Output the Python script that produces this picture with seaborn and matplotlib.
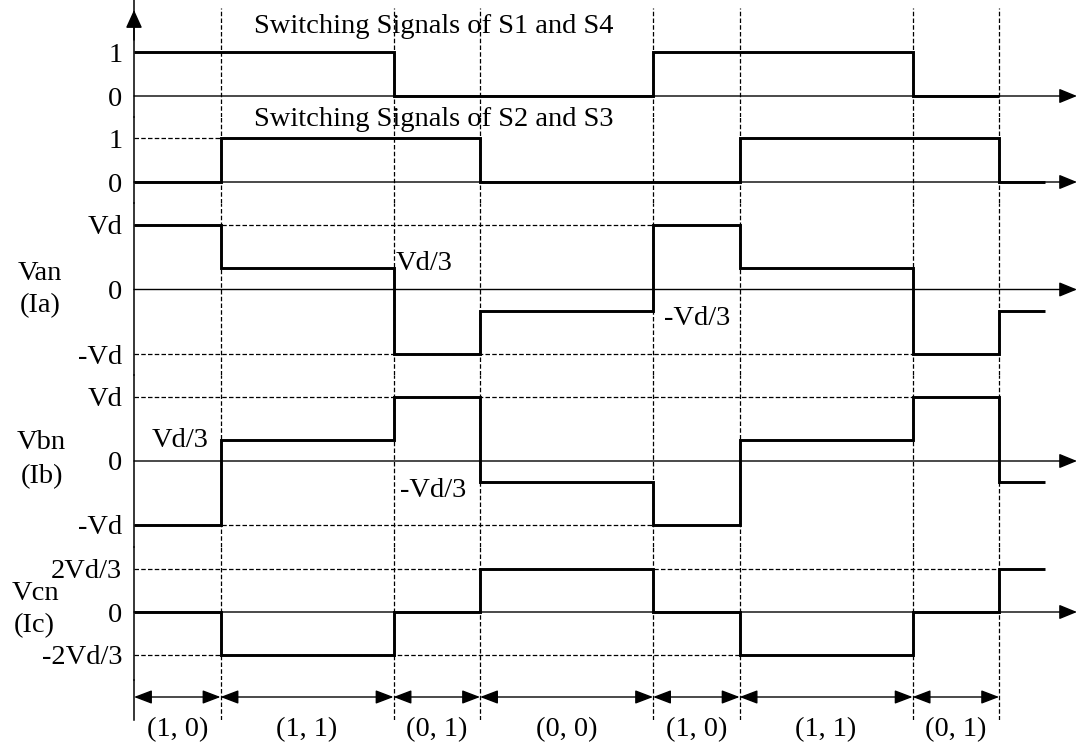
import numpy as np
import pandas as pd
import matplotlib
matplotlib.use("Agg")
import matplotlib.pyplot as plt
import seaborn as sns

# ---------------- data ----------------
edges = [0, 1, 3, 4, 6, 7, 9, 10]          # switching instants (time units)
t_end = 10.53                              # end of drawn waveforms
states = ["(1, 0)", "(1, 1)", "(0, 1)", "(0, 0)", "(1, 0)", "(1, 1)", "(0, 1)"]
s14 = [1, 1, 0, 0, 1, 1, 0]                # S1/S4 per interval (ends at t=10)
s23 = [0, 1, 1, 0, 0, 1, 1, 0]             # S2/S3 per interval (+ tail)
van = [1, 1/3, -1, -1/3, 1, 1/3, -1, -1/3] # in units of Vd
vbn = [-1, 1/3, 1, -1/3, -1, 1/3, 1, -1/3]
vcn = [0, -2/3, 0, 2/3, 0, -2/3, 0, 2/3]

sw_ticks = [0, 1]
sw_labels = ["0", "1"]
v_ticks = [-1, 0, 1]
v_labels = ["-Vd", "0", "Vd"]
c_ticks = [-2/3, 0, 2/3]
c_labels = ["-2Vd/3", "0", "2Vd/3"]

# dashed guide lines per row: (level, x_start, x_end)
guides_s23 = [(1, 0, 1)]
guides_van = [(1, 0, 6), (-1, 0, 9)]
guides_vbn = [(1, 0, 9), (-1, 0, 6)]
guides_vcn = [(2/3, 0, 10), (-2/3, 0, 7)]

# ---------------- style ----------------
sns.set_style("white")
plt.rcParams["font.family"] = ["Liberation Serif", "DejaVu Serif"]
FS = 20.5
K = "black"
DASH = (0, (3.6, 1.8))

W, H = 1078, 744
fig = plt.figure(figsize=(W / 100, H / 100), dpi=100)
X0, X1 = 134, 1077
XMAX = 10.9


def add_row(top, bot, zero, scale):
    ax = fig.add_axes([X0 / W, 1 - bot / H, (X1 - X0) / W, (bot - top) / H])
    ax.set_xlim(0, XMAX)
    ax.set_ylim((zero - bot) / scale, (zero - top) / scale)
    ax.patch.set_alpha(0)
    for s in ["top", "right", "bottom"]:
        ax.spines[s].set_visible(False)
    ax.spines["left"].set_linewidth(1.1)
    ax.spines["left"].set_color(K)
    ax.tick_params(axis="y", length=0, pad=8.5, labelsize=FS, labelcolor=K)
    ax.set_xticks([])
    return ax


def step(ax, x, v):
    df = pd.DataFrame({"t": x, "v": v})
    sns.lineplot(data=df, x="t", y="v", ax=ax, drawstyle="steps-post",
                 estimator=None, sort=False, color=K, lw=2.1,
                 solid_joinstyle="miter", solid_capstyle="butt", zorder=5)
    ax.set_xlabel("")
    ax.set_ylabel("")


def zero_arrow(ax):
    ax.annotate("", xy=(XMAX, 0), xytext=(0, 0), annotation_clip=False,
                arrowprops=dict(arrowstyle="-|>,head_length=1.1,head_width=0.45",
                                mutation_scale=10, lw=1.0, color=K,
                                shrinkA=0, shrinkB=0), zorder=3)


def vdash(ax, ymax=1.0):
    for e in edges[1:]:
        ax.axvline(e, ymin=0, ymax=ymax, color=K, lw=0.9, ls=DASH, zorder=2)


def hguides(ax, guides):
    for lvl, a, b in guides:
        ax.hlines(lvl, a, b, color=K, lw=0.9, linestyles=[DASH], zorder=2)


x_full = edges + [t_end]

# Row 1: S1 / S4
ax1 = add_row(0, 117, 96, 44)
ax1.set_yticks(sw_ticks, sw_labels)
vdash(ax1, ymax=(117 - 8) / 117)
zero_arrow(ax1)
step(ax1, edges, s14 + [s14[-1]])
ax1.annotate("", xy=(0, (96 - 10) / 44), xytext=(0, (96 - 40) / 44), annotation_clip=False,
             arrowprops=dict(arrowstyle="-|>,head_length=1.1,head_width=0.5",
                             mutation_scale=10, lw=1.1, color=K, shrinkA=0, shrinkB=0))
ax1.text(1.39, (96 - 33) / 44, "Switching Signals of S1 and S4", fontsize=FS,
         ha="left", va="baseline", color=K)

# Row 2: S2 / S3
ax2 = add_row(117, 203, 182, 44)
ax2.set_yticks(sw_ticks, sw_labels)
vdash(ax2)
hguides(ax2, guides_s23)
zero_arrow(ax2)
step(ax2, x_full, s23 + [s23[-1]])
ax2.text(1.39, (182 - 126) / 44, "Switching Signals of S2 and S3", fontsize=FS,
         ha="left", va="baseline", color=K)

# Row 3: Van
ax3 = add_row(203, 375, 289.5, 64.5)
ax3.set_yticks(v_ticks, v_labels)
vdash(ax3)
hguides(ax3, guides_van)
zero_arrow(ax3)
step(ax3, x_full, van + [van[-1]])
ax3.text(3.03, (289.5 - 270) / 64.5, "Vd/3", fontsize=FS, ha="left", va="baseline", color=K)
ax3.text(6.13, (289.5 - 325) / 64.5, "-Vd/3", fontsize=FS, ha="left", va="baseline", color=K)

# Row 4: Vbn
ax4 = add_row(375, 547, 461, 64)
ax4.set_yticks(v_ticks, v_labels)
vdash(ax4)
hguides(ax4, guides_vbn)
zero_arrow(ax4)
step(ax4, x_full, vbn + [vbn[-1]])
ax4.text(0.21, (461 - 447) / 64, "Vd/3", fontsize=FS, ha="left", va="baseline", color=K)
ax4.text(3.08, (461 - 497) / 64, "-Vd/3", fontsize=FS, ha="left", va="baseline", color=K)

# Row 5: Vcn
ax5 = add_row(547, 680, 612, 64.5)
ax5.set_yticks(c_ticks, c_labels)
vdash(ax5)
hguides(ax5, guides_vcn)
zero_arrow(ax5)
step(ax5, x_full, vcn + [vcn[-1]])

# Row 6: interval arrows and state labels
axa = add_row(680, 720, 697, 1.0)
axa.set_yticks([])
vdash(axa)
for a, b in zip(edges[:-1], edges[1:]):
    axa.annotate("", xy=(b, 0), xytext=(a, 0), annotation_clip=False,
                 arrowprops=dict(arrowstyle="<|-|>,head_length=1.1,head_width=0.42",
                                 mutation_scale=10, lw=1.0, color=K,
                                 shrinkA=0, shrinkB=0))
mids = [(a + b) / 2 for a, b in zip(edges[:-1], edges[1:])]
axa.set_xticks(mids, states)
axa.tick_params(axis="x", length=0, pad=-2, labelsize=FS, labelcolor=K)

# Row labels
def ftext(xpx, ypx, s):
    fig.text(xpx / W, 1 - ypx / H, s, fontsize=FS, ha="center", va="baseline", color=K)

ftext(40, 280, "Van")
ftext(40, 312, "(Ia)")
ftext(41, 449, "Vbn")
ftext(42, 483, "(Ib)")
ftext(35, 600, "Vcn")
ftext(34, 632, "(Ic)")

fig.savefig("out.png", dpi=100, facecolor="white")
